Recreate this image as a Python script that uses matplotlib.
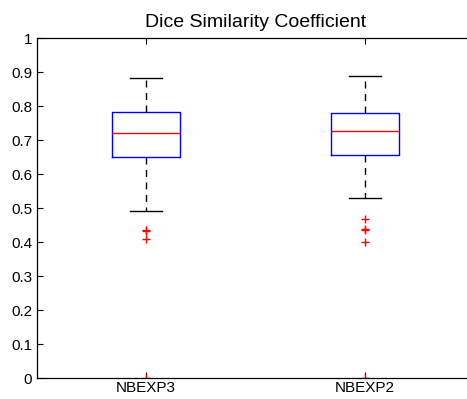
import matplotlib
matplotlib.use("Agg")
import matplotlib.pyplot as plt

plt.rcParams['font.family'] = ['Liberation Sans', 'DejaVu Sans']

# box summary stats
labels = ['NBEXP3', 'NBEXP2']
whislo = [0.491, 0.529]
q1 = [0.650, 0.656]
med = [0.720, 0.726]
q3 = [0.782, 0.779]
whishi = [0.882, 0.888]
fliers = [[0.436, 0.432, 0.410, 0.0],
          [0.468, 0.438, 0.434, 0.400, 0.0]]

stats = []
for i in range(len(labels)):
    stats.append({'label': labels[i], 'whislo': whislo[i], 'q1': q1[i], 'med': med[i],
                  'q3': q3[i], 'whishi': whishi[i], 'fliers': fliers[i]})

fig = plt.figure(figsize=(4.67, 3.99), dpi=100)
# right edge of the axes falls just outside the image, as in the reference
ax = fig.add_axes([36.5 / 467, 21 / 399, 438 / 467, 340 / 399])

ax.bxp(stats, positions=[1, 2], widths=0.306, showfliers=True,
       boxprops=dict(color='blue', linewidth=1),
       medianprops=dict(color='red', linewidth=1),
       whiskerprops=dict(color='black', linestyle=(0, (5, 4)), linewidth=1),
       capprops=dict(color='black', linewidth=1),
       flierprops=dict(marker='+', markeredgecolor='red', markersize=6, linestyle='none'),
       capwidths=0.15)

ax.set_xlim(0.5, 2.5)
ax.set_ylim(0, 1)
ax.set_yticks([i / 10 for i in range(11)])
ax.set_yticklabels(['0', '0.1', '0.2', '0.3', '0.4', '0.5', '0.6', '0.7', '0.8', '0.9', '1'])
ax.tick_params(direction='in', top=True, right=True, labelsize=11, length=4, width=0.8, pad=3)
ax.tick_params(axis='x', pad=2)
for s in ax.spines.values():
    s.set_linewidth(0.9)
ax.set_title('Dice Similarity Coefficient', fontsize=14, pad=8)

fig.savefig('out.png')
